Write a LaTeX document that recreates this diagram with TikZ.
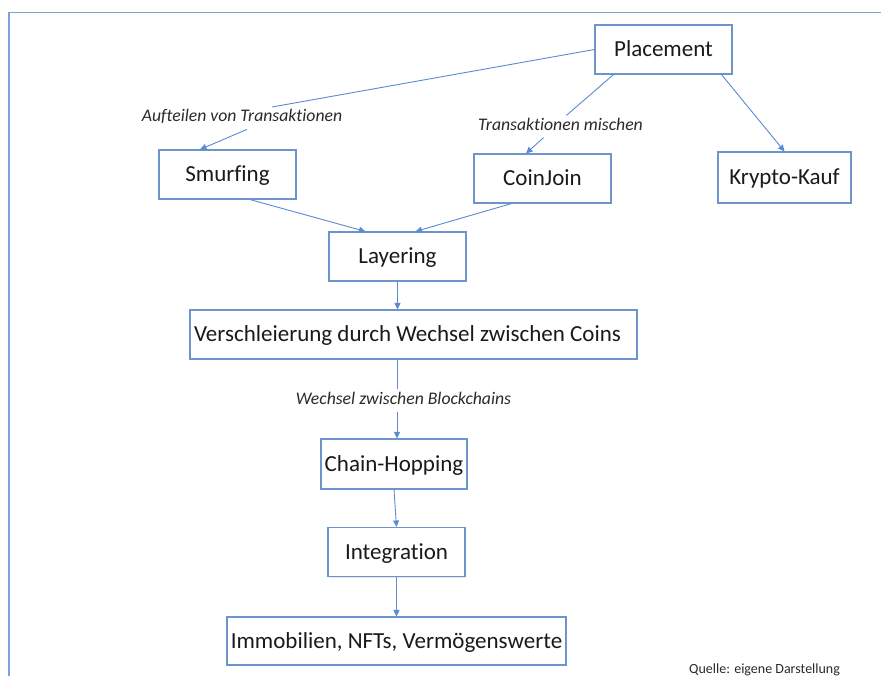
\documentclass[tikz,border=0pt]{standalone}
\usepackage{fontspec}
\setmainfont{Carlito}[Ligatures={NoCommon}]
\usetikzlibrary{arrows.meta,shadows}

\definecolor{framecol}{HTML}{7EA3D8}
\definecolor{boxcol}{HTML}{6E94CC}
\definecolor{linkcol}{HTML}{5B8BD0}
\definecolor{txtcol}{HTML}{1A1A1A}
\definecolor{lblcol}{HTML}{2A2A2A}

\tikzset{
  stagebox/.style={draw=boxcol, line width=1.1pt, fill=white, inner sep=0pt,
    text height=14.8pt, text depth=0pt, text=txtcol,
    font=\fontsize{23}{27}\selectfont,
    drop shadow={shadow xshift=1.2pt, shadow yshift=-1.2pt, opacity=0.18, fill=gray}},
  edgelabel/.style={anchor=base, inner xsep=2pt, inner ysep=3pt,
    text height=11.5pt, text depth=4.5pt, text=lblcol,
    font=\fontsize{17.7}{20}\selectfont\itshape},
  link/.style={draw=linkcol, line width=0.9pt},
  arrowlink/.style={link, -{Triangle[length=6.5pt,width=6pt]}},
}

\begin{document}
\begin{tikzpicture}[x=1pt, y=-1pt]
  \useasboundingbox (0,0) rectangle (881,675);
  \fill[white] (0,0) rectangle (881,675);

  % outer frame (top and left edge)
  \draw[framecol, line width=1.3pt] (9,680) -- (9,12.5) -- (885,12.5);

  % stages
  \node[stagebox, minimum width=137pt, minimum height=49pt] (pl) at (663.5,49.5) {Placement};
  \node[stagebox, minimum width=137pt, minimum height=49pt] (sm) at (227.5,174.5) {Smurfing};
  \node[stagebox, minimum width=137pt, minimum height=49pt] (cj) at (542.5,178.5) {CoinJoin};
  \node[stagebox, minimum width=133pt, minimum height=51pt] (kk) at (784.5,177.5) {Krypto-Kauf};
  \node[stagebox, minimum width=137pt, minimum height=49pt] (ly) at (397.5,256.5) {Layering};
  \node[stagebox, minimum width=447pt, minimum height=49pt] (vs) at (413.5,334.5) {Verschleierung durch Wechsel zwischen Coins\hspace*{12pt}};
  \node[stagebox, minimum width=146pt, minimum height=50pt] (ch) at (394,464) {Chain-Hopping};
  \node[stagebox, minimum width=137pt, minimum height=49pt] (in) at (396.5,552) {Integration};
  \node[stagebox, minimum width=339pt, minimum height=48pt] (im) at (396.5,641) {Immobilien, NFTs, Vermögenswerte};

  % labels on connectors
  \node[edgelabel] (l1) at (242,121.7) {Aufteilen von Transaktionen};
  \node[edgelabel] (l2) at (560.5,130) {Transaktionen mischen};
  \node[edgelabel] (l3) at (403.5,404) {Wechsel zwischen Blockchains};

  % connectors
  \draw[link] (pl.west) -- ([xshift=30pt]l1.north);
  \draw[arrowlink] ([xshift=5pt]l1.south) -- ([xshift=-27.5pt]sm.north);

  \draw[link] ([xshift=-50pt]pl.south) -- ([xshift=6pt]l2.north);
  \draw[arrowlink] ([xshift=-17pt]l2.south) -- ([xshift=-16.5pt]cj.north);

  \draw[arrowlink] ([xshift=58pt]pl.south) -- (kk.north);

  \draw[arrowlink] ([xshift=22.5pt]sm.south) -- ([xshift=-32pt]ly.north);
  \draw[arrowlink] ([xshift=-31pt]cj.south) -- ([xshift=18pt]ly.north);

  \draw[arrowlink] (ly.south) -- (ly.south |- vs.north);

  \draw[link] ([xshift=-16.5pt]vs.south) -- ([xshift=-6.5pt]l3.north);
  \draw[arrowlink] ([xshift=-6.5pt]l3.south) -- ([xshift=3pt]ch.north);

  \draw[arrowlink] (ch.south) -- (in.north);
  \draw[arrowlink] (in.south) -- (im.north);

  % source note
  \node[anchor=base west, inner sep=0pt, text=lblcol, font=\fontsize{14}{16}\selectfont] (src) at (689,673) {Quelle: eigene Darstellung};
\end{tikzpicture}
\end{document}
